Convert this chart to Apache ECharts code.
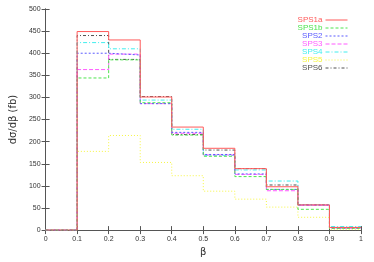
<!DOCTYPE html>
<html><head><meta charset="utf-8">
<script src="https://cdn.jsdelivr.net/npm/echarts@6/dist/echarts.min.js"></script>
<style>html,body{margin:0;padding:0;background:#fff}#c{width:374px;height:262px}</style>
</head><body><div id="c"></div>
<script>
const binEdges = [0, 0.1, 0.2, 0.3, 0.4, 0.5, 0.6, 0.7, 0.8, 0.9, 1.0];
const seriesNames = ['SPS1a', 'SPS1b', 'SPS2', 'SPS3', 'SPS4', 'SPS5', 'SPS6'];
const sps1a = [0, 449, 430, 301, 233, 185, 139, 98, 57, 6];
const sps1b = [0, 344, 385, 288, 215, 167, 121, 92, 47, 4];
const sps2  = [0, 400, 396, 286, 221, 171, 127, 92, 57, 5];
const sps3  = [0, 363, 398, 286, 219, 170, 126, 89, 56, 4];
const sps4  = [0, 424, 410, 294, 228, 169, 136, 111, 57, 8];
const sps5  = [0, 178, 214, 153, 123, 88, 70, 52, 29, 1];
const sps6  = [0, 440, 386, 302, 216, 181, 139, 102, 57, 6];
const yTicks = [0, 50, 100, 150, 200, 250, 300, 350, 400, 450, 500];

const allValues = [sps1a, sps1b, sps2, sps3, sps4, sps5, sps6];
const colors = ['#ff5a5a', '#4ee44e', '#5a5aff', '#ff5aff', '#40eeee', '#f6f640', '#505050'];
const dashes = ['solid', [3, 2], [2, 2], [4, 2], [4, 2, 1, 2], [1, 2], [3, 2, 1, 2]];

function stepData(vals) {
  const d = vals.map((v, i) => [binEdges[i], v]);
  d.push([binEdges[binEdges.length - 1], vals[vals.length - 1]]);
  return d;
}

const chart = echarts.init(document.getElementById('c'), null, {renderer: 'canvas'});
const axisCol = '#555';
const option = {
  animation: false,
  grid: {left: 32, right: 13, top: 9, bottom: 23, containLabel: false},
  legend: {
    orient: 'vertical', right: 21, top: 11, itemWidth: 22, itemHeight: 6, itemGap: 0,
    align: 'right', selectedMode: false,
    itemStyle: {opacity: 0},
    lineStyle: {width: 1},
    textStyle: {fontSize: 8, fontFamily: 'Liberation Sans', padding: [0, -2, 0, 0]},
    data: seriesNames.map((n, i) => ({name: n, textStyle: {color: colors[i]},
      lineStyle: {color: colors[i], width: 1, type: dashes[i]}}))
  },
  xAxis: [{
    type: 'value', min: 0, max: 1, interval: 0.1,
    name: 'β', nameLocation: 'middle', nameGap: 14,
    nameTextStyle: {fontSize: 10, color: '#333', fontFamily: 'DejaVu Sans'},
    axisLine: {lineStyle: {color: axisCol, width: 1}},
    axisTick: {inside: true, length: 4, lineStyle: {color: axisCol}},
    axisLabel: {fontSize: 7, color: '#333', margin: 5, fontFamily: 'Liberation Sans',
      formatter: v => String(Math.round(v * 10) / 10)},
    splitLine: {show: false}
  }, {
    type: 'value', min: 0, max: 1, interval: 0.1, position: 'top',
    axisLine: {lineStyle: {color: axisCol, width: 1}},
    axisTick: {inside: true, length: 4, lineStyle: {color: axisCol}},
    axisLabel: {show: false}, splitLine: {show: false}
  }],
  yAxis: [{
    type: 'value', min: 0, max: 500, interval: 50,
    name: 'dσ/dβ (fb)', nameLocation: 'middle', nameGap: 22,
    nameTextStyle: {fontSize: 10, color: '#333', fontFamily: 'DejaVu Sans'},
    axisLine: {show: true, lineStyle: {color: axisCol, width: 1}},
    axisTick: {show: true, inside: true, length: 4, lineStyle: {color: axisCol}},
    axisLabel: {fontSize: 7, color: '#333', margin: 5, fontFamily: 'Liberation Sans',
      formatter: v => (yTicks.includes(v) ? String(v) : '')},
    splitLine: {show: false}
  }, {
    type: 'value', min: 0, max: 500, interval: 50, position: 'right',
    axisLine: {show: true, lineStyle: {color: axisCol, width: 1}},
    axisTick: {show: true, inside: true, length: 4, lineStyle: {color: axisCol}},
    axisLabel: {show: false}, splitLine: {show: false}
  }],
  series: seriesNames.map((n, i) => ({
    name: n, type: 'line', step: 'end', showSymbol: false, symbol: 'none',
    data: stepData(allValues[i]),
    lineStyle: {color: colors[i], width: 1, type: dashes[i]},
    itemStyle: {color: colors[i]},
    z: 10 - i
  }))
};
chart.setOption(option);
</script></body></html>
